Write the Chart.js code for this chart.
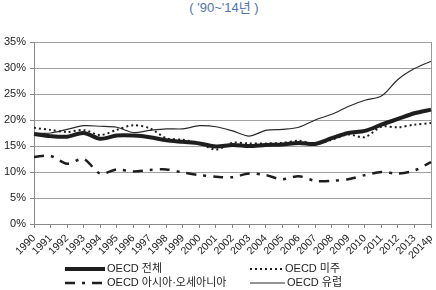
<!DOCTYPE html>
<html>
<head>
<meta charset="utf-8">
<script src="https://cdn.jsdelivr.net/npm/chart.js@4.4.0/dist/chart.umd.min.js"></script>
<style>
  html, body { margin: 0; padding: 0; background: #fff; }
  #wrap { position: relative; width: 436px; height: 290px; overflow: hidden; }
  #title { position: absolute; left: 6px; width: 436px; top: -3px; text-align: center;
           font: 13px "Liberation Sans", "Noto Sans CJK KR", sans-serif; color: #5173ad; }
  canvas { position: absolute; left: 0; top: 0; }
</style>
</head>
<body>
<div id="wrap">
  <div id="title">( '90~'14년 )</div>
  <canvas id="chart" width="436" height="290"></canvas>
</div>
<script>
// ===== data =====
const years = ["1990", "1991", "1992", "1993", "1994", "1995", "1996", "1997", "1998", "1999",
  "2000", "2001", "2002", "2003", "2004", "2005", "2006", "2007", "2008", "2009",
  "2010", "2011", "2012", "2013", "2014p"];

const oecdTotal = [17.3, 16.9, 16.8, 17.5, 16.4, 17.0, 17.0, 16.7, 16.1, 15.8,
  15.5, 14.9, 15.2, 15.0, 15.2, 15.3, 15.6, 15.4, 16.5, 17.5,
  17.9, 19.1, 20.2, 21.3, 22.0];

const oecdAmericas = [18.5, 18.1, 17.7, 18.1, 17.1, 18.1, 19.0, 18.4, 16.5, 16.2,
  15.5, 14.3, 15.6, 15.5, 15.5, 15.6, 16.0, 15.4, 16.2, 17.2,
  16.7, 18.7, 18.6, 19.1, 19.4];

const oecdAsiaOceania = [12.9, 13.1, 11.6, 12.5, 9.7, 10.5, 10.1, 10.4, 10.5, 9.9,
  9.4, 9.1, 9.0, 9.7, 9.4, 8.6, 9.2, 8.3, 8.3, 8.6,
  9.4, 10.0, 9.7, 10.3, 11.9];

const oecdEurope = [17.4, 17.5, 18.2, 18.9, 18.8, 18.6, 17.6, 18.0, 18.3, 18.3,
  18.9, 18.7, 17.9, 16.9, 18.0, 18.2, 18.6, 20.0, 21.1, 22.6,
  23.8, 24.6, 27.8, 29.9, 31.3];

const yTicks = [0, 5, 10, 15, 20, 25, 30, 35];

const seriesNames = ["OECD 전체", "OECD 미주", "OECD 아시아·오세아니아", "OECD 유럽"];

const FONT = '"Liberation Sans", "Noto Sans CJK KR", sans-serif';
const INK = "#1e1e1e";

// legend drawn by hand so it can sit in two columns like the original
const legendPlugin = {
  id: "manualLegend",
  afterDraw(chart) {
    const c = chart.ctx;
    const items = [
      { x: 65, y: 269, w: 40, ds: 0 },
      { x: 250, y: 269, w: 33, ds: 1 },
      { x: 65, y: 283, w: 40, ds: 2 },
      { x: 250, y: 283, w: 35, ds: 3 }
    ];
    c.save();
    items.forEach(it => {
      const ds = chart.data.datasets[it.ds];
      c.strokeStyle = ds.borderColor;
      c.lineWidth = ds.borderWidth;
      c.setLineDash(ds.borderDash || []);
      c.beginPath();
      c.moveTo(it.x, it.y);
      c.lineTo(it.x + it.w, it.y);
      c.stroke();
      c.setLineDash([]);
      c.fillStyle = "#222";
      c.font = "11px " + FONT;
      c.textBaseline = "middle";
      c.fillText(ds.label, it.x + it.w + 2, it.y);
    });
    c.restore();
  }
};

const ctx = document.getElementById("chart").getContext("2d");

new Chart(ctx, {
  type: "line",
  data: {
    labels: years,
    datasets: [
      {
        label: seriesNames[0],
        data: oecdTotal,
        borderColor: INK,
        borderWidth: 4,
        tension: 0.3,
        pointRadius: 0
      },
      {
        label: seriesNames[1],
        data: oecdAmericas,
        borderColor: INK,
        borderWidth: 2,
        borderDash: [2, 3],
        tension: 0.3,
        pointRadius: 0
      },
      {
        label: seriesNames[2],
        data: oecdAsiaOceania,
        borderColor: INK,
        borderWidth: 2.5,
        borderDash: [10, 7, 3, 7],
        tension: 0.3,
        pointRadius: 0
      },
      {
        label: seriesNames[3],
        data: oecdEurope,
        borderColor: "#2a2a2a",
        borderWidth: 1.2,
        tension: 0.3,
        pointRadius: 0
      }
    ]
  },
  options: {
    responsive: false,
    animation: false,
    layout: { padding: { left: 0, right: 5, top: 42, bottom: 0 } },
    plugins: {
      legend: { display: false },
      tooltip: { enabled: false }
    },
    scales: {
      x: {
        offset: false,
        afterFit: s => { s.height = 66; s.paddingRight = 0; s.paddingLeft = 0; },
        grid: {
          color: c => (c.index === years.length - 1 ? "#999" : "transparent"),
          tickColor: "#888",
          tickLength: 4
        },
        border: { color: "#888" },
        ticks: {
          color: "#222",
          font: { family: FONT, size: 10.5 },
          minRotation: 45,
          maxRotation: 45,
          autoSkip: false,
          padding: 4
        }
      },
      y: {
        min: 0,
        max: 35,
        afterFit: s => { s.width = 34; },
        afterBuildTicks: s => { s.ticks = yTicks.map(v => ({ value: v })); },
        grid: { color: "#a0a0a0", tickColor: "#888", tickLength: 4 },
        border: { color: "#888" },
        ticks: {
          color: "#222",
          font: { family: FONT, size: 11 },
          padding: 4,
          callback: v => v + "%"
        }
      }
    }
  },
  plugins: [legendPlugin]
});
</script>
</body>
</html>
